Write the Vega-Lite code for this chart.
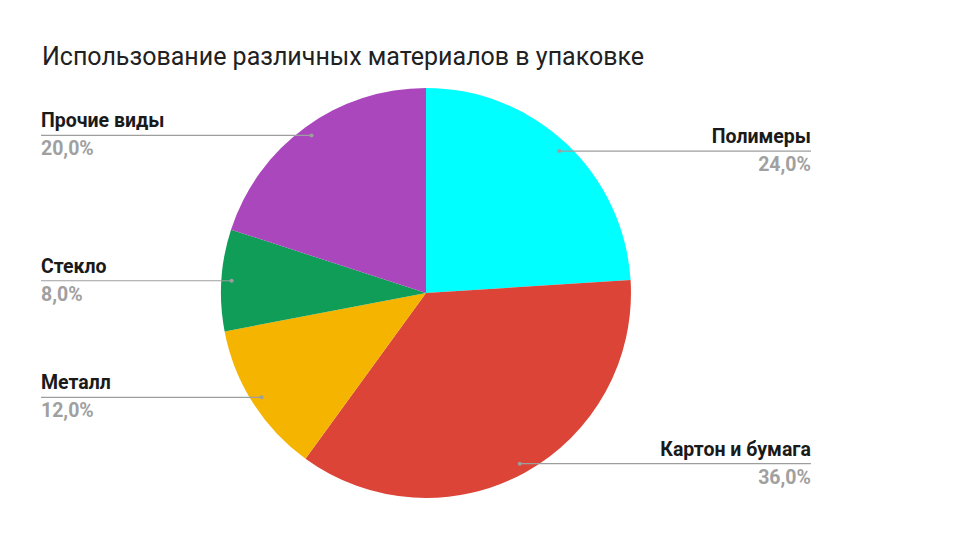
{
  "$schema": "https://vega.github.io/schema/vega-lite/v6.json",
  "width": 960,
  "height": 540,
  "autosize": {"type": "fit", "contains": "padding"},
  "padding": {"top": 45, "left": 0, "right": 0, "bottom": 0},
  "background": "white",
  "title": {
    "text": "Использование различных материалов в упаковке",
    "anchor": "start",
    "dx": 42,
    "offset": 10,
    "font": "Roboto",
    "fontSize": 25,
    "fontWeight": "normal",
    "color": "#212121"
  },
  "config": {
    "view": {"stroke": null},
    "font": "Roboto"
  },
  "data": {
    "values": [
      {"category": "Полимеры", "value": 24},
      {"category": "Картон и бумага", "value": 36},
      {"category": "Металл", "value": 12},
      {"category": "Стекло", "value": 8},
      {"category": "Прочие виды", "value": 20}
    ]
  },
  "transform": [
    {"window": [{"op": "row_number", "as": "idx"}, {"op": "sum", "field": "value", "as": "cum"}], "frame": [null, 0]},
    {"joinaggregate": [{"op": "sum", "field": "value", "as": "total"}]},
    {"calculate": "2 * PI * (datum.cum - datum.value / 2) / datum.total", "as": "mid"},
    {"calculate": "0.95 * sin(datum.mid)", "as": "px"},
    {"calculate": "0.95 * cos(datum.mid)", "as": "py"},
    {"calculate": "datum.mid < PI ? 1.878 : -1.878", "as": "lx"},
    {"calculate": "replace(format(100 * datum.value / datum.total, '.1f'), '.', ',') + '%'", "as": "pct"}
  ],
  "layer": [
    {
      "mark": {"type": "arc", "outerRadius": 205, "stroke": null},
      "encoding": {
        "x": {"datum": 0, "type": "quantitative", "scale": {"domain": [-2.078, 2.605], "nice": false, "zero": false}, "axis": null},
        "y": {"datum": 0, "type": "quantitative", "scale": {"domain": [-1.205, 1.039], "nice": false, "zero": false}, "axis": null},
        "theta": {"field": "value", "type": "quantitative", "stack": true},
        "order": {"field": "idx", "type": "quantitative"},
        "color": {
          "field": "category",
          "type": "nominal",
          "scale": {
            "domain": ["Полимеры", "Картон и бумага", "Металл", "Стекло", "Прочие виды"],
            "range": ["#00ffff", "#db4437", "#f4b400", "#0f9d58", "#ab47bc"]
          },
          "legend": null
        }
      }
    },
    {
      "mark": {"type": "rule", "color": "#9e9e9e", "strokeWidth": 1.2},
      "encoding": {
        "x": {"field": "px", "type": "quantitative"},
        "x2": {"field": "lx"},
        "y": {"field": "py", "type": "quantitative"}
      }
    },
    {
      "mark": {"type": "circle", "color": "#9e9e9e", "size": 16, "opacity": 1},
      "encoding": {
        "x": {"field": "px", "type": "quantitative"},
        "y": {"field": "py", "type": "quantitative"}
      }
    },
    {
      "mark": {"type": "text", "fontSize": 19.5, "fontWeight": "bold", "color": "#1a1a1a", "baseline": "alphabetic", "dy": -8, "align": {"expr": "datum.lx > 0 ? 'right' : 'left'"}},
      "encoding": {
        "x": {"field": "lx", "type": "quantitative"},
        "y": {"field": "py", "type": "quantitative"},
        "text": {"field": "category"}
      }
    },
    {
      "mark": {"type": "text", "fontSize": 19.5, "fontWeight": "bold", "color": "#a0a0a0", "baseline": "alphabetic", "dy": 20, "align": {"expr": "datum.lx > 0 ? 'right' : 'left'"}},
      "encoding": {
        "x": {"field": "lx", "type": "quantitative"},
        "y": {"field": "py", "type": "quantitative"},
        "text": {"field": "pct"}
      }
    }
  ]
}
